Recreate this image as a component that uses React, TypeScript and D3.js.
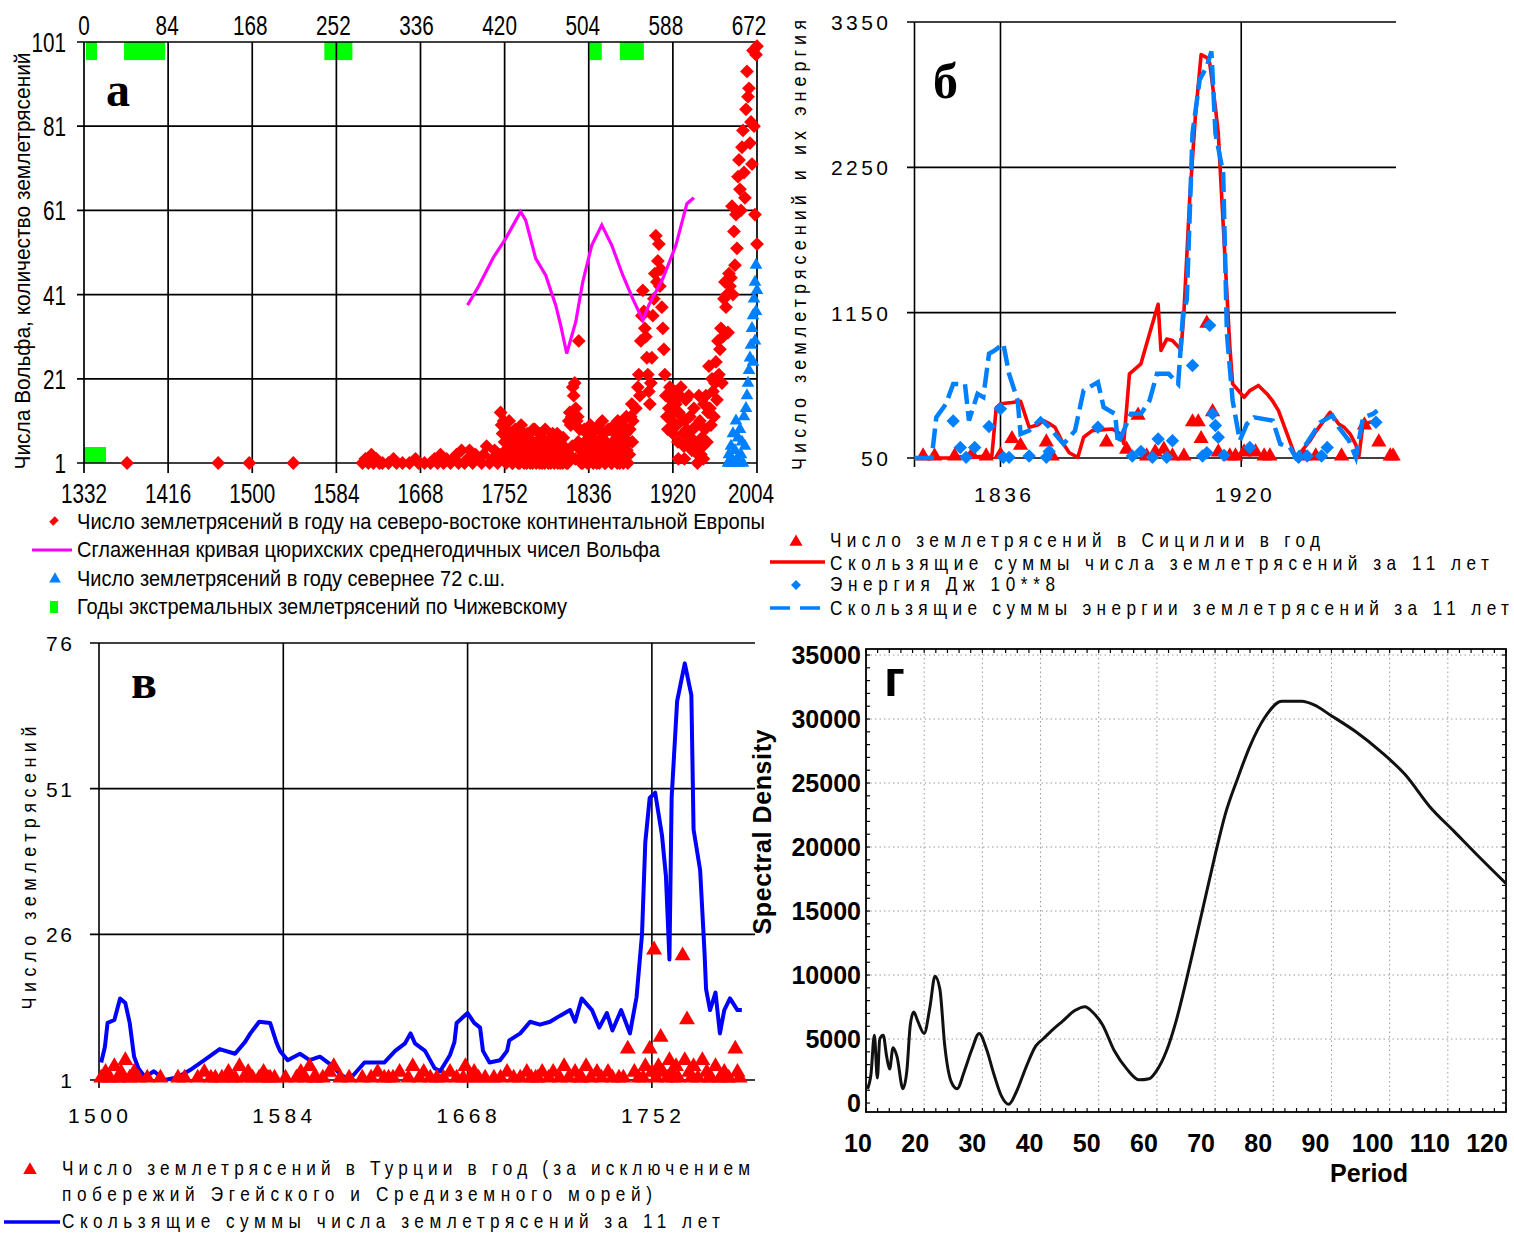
import React from 'react'
import * as d3 from 'd3'

const SANS = "'Liberation Sans', Arial, Helvetica, sans-serif"
const SERIF = "'Liberation Serif', 'Times New Roman', serif"

// ---------- panel а : NE Europe, Wolf numbers, Arctic ----------
const yearTicksA = [1332, 1416, 1500, 1584, 1668, 1752, 1836, 1920, 2004]
const topTicksA = [0, 84, 168, 252, 336, 420, 504, 588, 672]
const countTicksA = [1, 21, 41, 61, 81, 101]

const europeQuakes: [number, number][] = [
  [1375, 1], [1466, 1], [1497, 1], [1541, 1],
  [1610, 1], [1613, 2], [1616, 1], [1619, 3], [1621, 1], [1624, 2], [1627, 1], [1630, 1], [1636, 1], [1641, 2],
  [1644, 1], [1650, 1], [1657, 1], [1663, 2], [1666, 1], [1672, 1], [1678, 1], [1682, 2], [1685, 1], [1688, 3],
  [1691, 1], [1694, 2], [1698, 1], [1701, 2], [1704, 3], [1706, 1], [1709, 4], [1712, 1], [1715, 2], [1717, 4],
  [1720, 1], [1723, 3], [1726, 2], [1729, 1], [1731, 3], [1734, 5], [1737, 1], [1740, 2], [1742, 4], [1745, 1],
  [1747, 3], [1748, 13], [1749, 10], [1750, 8], [1751, 11], [1752, 6], [1753, 4], [1754, 9], [1755, 2], [1756, 7],
  [1757, 5], [1758, 3], [1759, 8], [1760, 1], [1761, 6], [1762, 4], [1763, 2], [1764, 7], [1765, 3], [1766, 5],
  [1767, 1], [1768, 4], [1769, 6], [1770, 2], [1771, 8], [1772, 3], [1773, 5], [1774, 1], [1775, 4], [1776, 7],
  [1777, 2], [1778, 6], [1779, 3], [1780, 1], [1781, 5], [1782, 9], [1783, 4], [1784, 2], [1785, 6], [1786, 3],
  [1787, 1], [1788, 5], [1789, 7], [1790, 2], [1791, 4], [1792, 1], [1793, 6], [1794, 3], [1795, 5], [1796, 2],
  [1797, 4], [1798, 1], [1799, 6], [1800, 8], [1801, 3], [1802, 5], [1803, 2], [1804, 4], [1805, 1], [1806, 3],
  [1807, 6], [1808, 2], [1809, 4], [1810, 1], [1811, 5], [1812, 3], [1813, 2], [1814, 4], [1815, 1], [1816, 11],
  [1817, 13], [1818, 10], [1819, 12], [1820, 19], [1821, 17], [1822, 20], [1823, 14], [1824, 11], [1825, 12],
  [1826, 30], [1827, 9], [1828, 4], [1829, 2],
  [1830, 1], [1831, 3], [1832, 6], [1833, 2], [1834, 8], [1835, 4], [1836, 1], [1837, 5], [1838, 3], [1839, 7],
  [1840, 2], [1841, 9], [1842, 4], [1843, 6], [1844, 1], [1845, 3], [1846, 10], [1847, 5], [1848, 2], [1849, 7],
  [1850, 4], [1851, 8], [1852, 1], [1853, 6], [1854, 3], [1855, 5], [1856, 2], [1857, 9], [1858, 4], [1859, 1],
  [1860, 6], [1861, 3], [1862, 8], [1863, 2], [1864, 5], [1865, 11], [1866, 4], [1867, 1], [1868, 7], [1869, 3],
  [1870, 10], [1871, 5], [1872, 2], [1873, 8], [1874, 4], [1875, 1], [1876, 6], [1877, 9], [1878, 12], [1879, 15],
  [1880, 11], [1883, 14], [1885, 19], [1886, 22], [1887, 17], [1888, 30], [1889, 36], [1890, 42], [1891, 37],
  [1892, 33], [1893, 31], [1894, 26], [1895, 22], [1896, 18], [1897, 15], [1898, 20], [1899, 26], [1900, 36],
  [1901, 40], [1902, 46], [1903, 55], [1904, 44], [1905, 49], [1906, 53], [1907, 43], [1908, 47], [1909, 38],
  [1910, 33], [1911, 28], [1912, 22], [1913, 17], [1914, 12], [1915, 9], [1916, 14], [1917, 19], [1918, 16],
  [1919, 11], [1920, 8], [1921, 13], [1922, 18], [1923, 15], [1924, 10], [1925, 6], [1926, 13], [1927, 17],
  [1928, 19], [1929, 12], [1930, 8], [1931, 5], [1932, 11], [1933, 16], [1934, 9], [1935, 6], [1936, 17],
  [1937, 12], [1938, 7], [1939, 4], [1940, 9], [1941, 14], [1942, 6], [1943, 5], [1944, 10], [1945, 3], [1946, 17],
  [1947, 11], [1948, 3], [1949, 7], [1950, 5], [1951, 15], [1952, 9], [1953, 17], [1954, 6], [1955, 13], [1956, 24],
  [1957, 14], [1958, 10], [1959, 21], [1960, 18], [1961, 12], [1962, 20], [1963, 25], [1964, 16], [1965, 30],
  [1966, 22], [1967, 28], [1968, 33], [1969, 20], [1970, 31], [1971, 40], [1972, 44], [1973, 38], [1974, 41],
  [1975, 32], [1976, 46], [1977, 43], [1978, 45], [1979, 62], [1980, 41], [1981, 56], [1982, 48], [1983, 60],
  [1984, 52], [1985, 69], [1986, 73], [1987, 66], [1988, 61], [1989, 76], [1990, 80], [1991, 70], [1992, 64],
  [1993, 85], [1994, 94], [1995, 88], [1996, 90], [1997, 77], [1998, 82], [1999, 72], [2000, 99], [2001, 81],
  [2002, 60], [2003, 98], [2004, 53], [2004, 100],
  // second reading of the dense band
  [1750.5, 2], [1753.5, 1], [1756.5, 11], [1759.5, 1], [1762.5, 9], [1765.5, 1], [1768.5, 10], [1771.5, 1],
  [1774.5, 8], [1777.5, 1], [1780.5, 9], [1783.5, 1], [1786.5, 8], [1789.5, 1], [1792.5, 9], [1795.5, 1],
  [1798.5, 7], [1801.5, 1], [1804.5, 8], [1807.5, 1], [1810.5, 7], [1813.5, 1], [1816.5, 3], [1819.5, 5],
  [1822.5, 2], [1825.5, 6], [1828.5, 1], [1831.5, 9], [1834.5, 1], [1837.5, 10], [1840.5, 1], [1843.5, 9],
  [1846.5, 1], [1849.5, 11], [1852.5, 1], [1855.5, 9], [1858.5, 1], [1861.5, 10], [1864.5, 1], [1867.5, 9],
  [1870.5, 1], [1873.5, 12], [1876.5, 3], [1879.5, 6], [1925.5, 2], [1931.5, 2], [1944.5, 1], [1950.5, 2],
]

const wolfSmoothed: [number, number][] = [
  [1715, 38.5], [1726, 43], [1741, 49.9], [1753, 54.3], [1768, 60.7], [1773, 58.7], [1783, 49.6], [1793, 45.6],
  [1803, 38.5], [1808, 33.7], [1814, 27], [1823, 34.5], [1830, 44], [1839, 52.7], [1849, 57.5], [1859, 52.7],
  [1870, 45.6], [1880, 40], [1890, 34.9], [1896, 38.5], [1910, 44.8], [1923, 52.7], [1934, 62.6], [1941, 64],
]

const arcticQuakes: [number, number][] = [
  [1975, 1], [1976, 3], [1977, 1], [1978, 5], [1979, 2], [1980, 8], [1981, 1], [1982, 4], [1983, 11], [1984, 2],
  [1985, 7], [1986, 1], [1987, 9], [1988, 3], [1989, 6], [1990, 1], [1991, 12], [1992, 5],
  [1993, 14], [1994, 17], [1995, 20], [1996, 23], [1997, 26], [1998, 29], [1999, 33], [2000, 36], [2001, 40],
  [2002, 44], [2003, 48], [2004, 42], [2002, 30], [2000, 25], [2003, 37],
]

const chizhevskyTop: [number, number][] = [[2, 13], [40, 81], [240, 268], [505, 517], [535, 559]]
const chizhevskyTopLevel: [number, number] = [96.7, 101]
const chizhevskyBottom: [number, number] = [1332, 1354]
const chizhevskyBottomLevel: [number, number] = [1, 4.8]

const legendA = [
  'Число землетрясений в году на северо-востоке континентальной Европы',
  'Сглаженная кривая цюрихских среднегодичных чисел Вольфа',
  'Число землетрясений в году севернее 72 с.ш.',
  'Годы экстремальных землетрясений по Чижевскому',
]

// ---------- panel б : Sicily ----------
const yearTicksB = [1836, 1920]
const valueTicksB = [50, 1150, 2250, 3350]

const sicilyCountSums: [number, number][] = [
  [1806, 50], [1820, 50], [1822, 60], [1826, 55], [1830, 62], [1833, 68], [1834.5, 430], [1836, 460], [1840, 470],
  [1843, 480], [1846, 283], [1849, 300], [1851, 333], [1853, 310], [1855, 283], [1858, 156], [1860, 90], [1863, 55],
  [1865, 207], [1868, 257], [1872, 265], [1875, 270], [1878, 232], [1879, 160], [1881, 687], [1885, 763], [1888, 990],
  [1891, 1213], [1892, 864], [1894, 950], [1896, 940], [1899, 870], [1900, 1150], [1902, 2002], [1904, 2635],
  [1906, 3103], [1908, 3080], [1909, 3040], [1911, 2700], [1912, 2508], [1913, 2100], [1914.5, 1497], [1916, 900],
  [1917, 611], [1919, 561], [1921, 510], [1923, 560], [1926, 599], [1929, 535], [1931, 480], [1933, 409],
  [1936, 232], [1939, 55], [1941, 100], [1944, 181], [1946, 250], [1948, 308], [1951, 396], [1954, 308],
  [1956, 280], [1958, 232], [1960, 150], [1961, 55], [1962.5, 308], [1965, 320], [1967.5, 333],
]

const sicilyEnergySums: [number, number][] = [
  [1806, 50], [1812, 50], [1813.6, 358], [1817, 460], [1819.5, 611], [1823.6, 611], [1825, 333], [1828, 535],
  [1830, 510], [1832, 839], [1834, 864], [1837, 915], [1839, 687], [1842, 485], [1843, 232], [1846, 257],
  [1850, 346], [1853, 283], [1858, 156], [1862, 257], [1865, 561], [1870, 624], [1872, 434], [1876, 384],
  [1877, 156], [1881.5, 384], [1885, 384], [1888, 485], [1890.6, 687], [1894.7, 687], [1898, 611], [1899.7, 1142],
  [1901, 1244], [1903, 2508], [1905.5, 2913], [1908, 3014], [1909.6, 3128], [1911, 2508], [1913.7, 2205],
  [1915, 991], [1917, 485], [1919.5, 181], [1922, 308], [1924.5, 358], [1931, 333], [1933.6, 156], [1937, 131],
  [1939, 55], [1942.7, 156], [1947.6, 320], [1951.8, 371], [1954, 283], [1957.6, 181], [1960, 55], [1962.5, 358],
  [1966, 384], [1967.5, 409],
]

const sicilyCounts: [number, number][] = [
  [1809, 50], [1813, 50], [1820, 50], [1826, 60], [1831, 50], [1836, 60], [1840, 181], [1843, 130], [1852, 156],
  [1854, 50], [1873, 156], [1880, 100], [1884, 358], [1887, 50], [1890, 80], [1893, 100], [1896, 50], [1900, 50],
  [1903, 308], [1905, 308], [1906, 181], [1908, 1054], [1910, 384], [1912, 80], [1916, 50], [1918, 50],
  [1921, 80], [1925, 80], [1928, 50], [1930, 50], [1942, 50], [1946, 50], [1955, 50], [1963, 284], [1968, 156],
  [1972, 50], [1973, 50],
]

const sicilyEnergy: [number, number][] = [
  [1819.5, 330], [1822, 130], [1824, 55], [1827, 130], [1832, 288], [1836, 422], [1837, 55], [1839, 55],
  [1846, 65], [1852, 55], [1853, 100], [1870, 283], [1882, 65], [1885, 100], [1889, 55], [1891, 194], [1894, 55],
  [1896, 180], [1903, 750], [1906.5, 65], [1908, 90], [1909, 1054], [1910, 384], [1911, 296], [1912, 207],
  [1914, 70], [1923, 130], [1940, 55], [1943, 65], [1948, 65], [1950, 130], [1967, 320],
]

const legendB = [
  'Число землетрясений в Сицилии в год',
  'Скользящие суммы числа землетрясений за 11 лет',
  'Энергия Дж 10**8',
  'Скользящие суммы энергии землетрясений за 11 лет',
]

// ---------- panel в : Turkey ----------
const yearTicksV = [1500, 1584, 1668, 1752]
const countTicksV = [1, 26, 51, 76]

const turkeySums: [number, number][] = [
  [1501, 4], [1502.7, 6.7], [1503.9, 10.8], [1507, 11.3], [1509.6, 15], [1512, 14.2], [1514, 10.8], [1516, 5],
  [1518, 3], [1521, 1.5], [1525, 2.5], [1530, 1], [1536, 1.5], [1541.5, 2.7], [1548, 4.4], [1555, 6.3],
  [1562, 5.5], [1566.5, 7.5], [1569, 9], [1573, 11], [1578, 10.8], [1581, 7.3], [1582.5, 6], [1586, 4.4],
  [1591.6, 5.5], [1596, 4.4], [1600.7, 5], [1605, 3.8], [1610, 2], [1614, 1], [1621, 4], [1630, 4], [1635, 6],
  [1639.5, 7.3], [1642, 9], [1644, 7.3], [1648.6, 6], [1653, 3], [1655.5, 2.5], [1660, 5.3], [1662, 7.5],
  [1663, 10.8], [1668, 12.5], [1671, 10.8], [1673.7, 10], [1675, 6], [1678, 4], [1682.8, 4.4], [1686, 6],
  [1687, 7.8], [1692, 9], [1696.5, 11], [1701, 10.5], [1705.6, 11], [1710, 12], [1714.7, 13], [1717, 11],
  [1720, 15], [1724.7, 13], [1728, 10], [1731.5, 12.5], [1734, 9.5], [1738, 13], [1742, 9], [1745, 15.2],
  [1747.5, 26], [1749, 41.8], [1751, 49.4], [1753.5, 50.3], [1756.6, 43], [1758.4, 36], [1760, 21.7],
  [1761, 49.4], [1763.5, 66], [1767, 72.5], [1770, 67], [1771, 44], [1774, 37], [1776, 22.8], [1776.7, 16.6],
  [1778.5, 13], [1781, 16], [1783, 9], [1785, 13], [1787.6, 15], [1791, 13], [1793, 13],
]

const turkeyCounts: [number, number][] = [
  [1501, 1], [1503, 2], [1505, 1], [1507, 3], [1509, 1], [1510, 2], [1512, 4], [1514, 1], [1516, 2], [1518, 1],
  [1522, 1], [1528, 1], [1536, 1], [1539, 1], [1545, 1], [1548, 2], [1551, 1], [1553, 1], [1556, 1], [1559, 2],
  [1562, 1], [1564, 3], [1566, 1], [1568, 2], [1570, 1], [1573, 1], [1575, 2], [1578, 1], [1580, 1], [1590, 1],
  [1592, 2], [1594, 1], [1596, 3], [1598, 1], [1602, 1], [1605, 2], [1607, 3], [1610, 1], [1614, 1], [1620, 1],
  [1624, 1], [1627, 2], [1630, 1], [1634, 1], [1637, 2], [1641, 1], [1643, 3], [1646, 1], [1648, 2], [1654, 1],
  [1657, 1], [1660, 2], [1663, 1], [1667, 3], [1669, 1], [1671, 2], [1673, 1], [1680, 1], [1683, 1], [1686, 2],
  [1689, 1], [1692, 1], [1695, 2], [1697, 1], [1700, 1], [1702, 2], [1705, 1], [1707, 2], [1710, 1], [1712, 3],
  [1714, 1], [1717, 2], [1719, 1], [1722, 3], [1724, 1], [1727, 2], [1729, 1], [1732, 2], [1734, 1], [1737, 1],
  [1741, 6], [1744, 2], [1746, 1], [1748, 1], [1749, 3], [1751, 6], [1753, 23], [1754, 1], [1755, 3], [1756, 8],
  [1757, 2], [1759, 1], [1760, 4], [1761, 2], [1763, 3], [1764, 1], [1766, 22], [1767, 4], [1768, 11], [1769, 2],
  [1771, 3], [1773, 1], [1775, 4], [1777, 2], [1779, 1], [1781, 3], [1783, 1], [1785, 2], [1787, 1], [1790, 6],
  [1791, 2], [1792, 1], [1504, 1], [1511, 1], [1560, 1], [1577, 1], [1585, 1], [1599, 1], [1632, 1], [1651, 1],
  [1666, 1], [1676, 1], [1699, 1], [1720, 1], [1739, 1], [1752, 2], [1762, 1], [1770, 1], [1778, 1], [1786, 1],
]

const legendV = [
  'Число землетрясений в Турции в год (за исключением',
  'побережий Эгейского и Средиземного морей)',
  'Скользящие суммы числа землетрясений за 11 лет',
]

// ---------- panel г : spectral density ----------
const periodTicks = [10, 20, 30, 40, 50, 60, 70, 80, 90, 100, 110, 120]
const densityTicks = [0, 5000, 10000, 15000, 20000, 25000, 30000, 35000]

const spectrum: [number, number][] = [
  [10.25, 1100], [10.85, 2230], [11.44, 5300], [11.95, 1950], [12.37, 5020], [12.96, 5300], [13.55, 3630],
  [14.06, 2650], [14.65, 4320], [15.33, 3630], [16.35, 1120], [17.02, 2510], [17.62, 6140], [18.21, 7110],
  [18.88, 6420], [19.99, 5440], [21.0, 7530], [21.85, 9900], [22.69, 8920], [23.54, 4460], [24.64, 1670],
  [25.65, 1120], [26.92, 2510], [28.19, 4180], [29.46, 5440], [30.73, 4180], [32.0, 2230], [33.27, 560],
  [34.54, -100], [35.81, 840], [37.5, 2790], [39.19, 4460], [40.46, 5020], [41.73, 5580], [43.85, 6420],
  [45.96, 7250], [47.66, 7530], [48.93, 7110], [50.62, 6140], [52.73, 4040], [54.85, 2650], [56.96, 1810],
  [58.66, 1900], [59.93, 2510], [61.62, 4040], [63.31, 6420], [65.0, 9480], [66.7, 12830], [68.39, 16180],
  [70.08, 19520], [71.77, 22590], [73.89, 25380], [76.0, 27890], [78.54, 30120], [81.5, 31380], [84.89, 31380],
  [87.0, 31100], [89.97, 30260], [94.2, 29000], [98.43, 27470], [102.66, 25660], [106.9, 23150],
  [111.12, 21200], [115.35, 19240], [120, 17150],
]

const diamond = (area: number) => d3.symbol(d3.symbolSquare, area)() as string
const triangle = (area: number) => d3.symbol(d3.symbolTriangle, area)() as string

function Txt(p: any) {
  const { x, y, size = 21, w, anchor = 'start', rotate = 0, sx, adjust = 'spacing', weight = 'normal', family = SANS, fill = '#000', children } = p
  const tf = `translate(${x},${y})` + (rotate ? ` rotate(${rotate})` : '') + (sx ? ` scale(${sx},1)` : '')
  return (
    <text transform={tf} fontSize={size} fontFamily={family} fontWeight={weight} textAnchor={anchor} fill={fill}
      textLength={w ? w / (sx || 1) : undefined} lengthAdjust={w ? adjust : undefined}>{children}</text>
  )
}

export default function App() {
  // panel а scales
  const xA = d3.scaleLinear().domain([1332, 2004]).range([84, 757])
  const xTopA = d3.scaleLinear().domain([0, 672]).range([84, 757])
  const xTopLabA = d3.scaleLinear().domain([0, 672]).range([84, 749])
  const yA = d3.scaleLinear().domain([1, 101]).range([463, 42])
  const lineA = d3.line<[number, number]>().x(d => xA(d[0])).y(d => yA(d[1]))

  // panel б scales
  const xB = d3.scaleLinear().domain([1806, 1974]).range([914.5, 1396])
  const yB = d3.scaleLinear().domain([50, 3350]).range([458, 22])
  const lineB = d3.line<[number, number]>().x(d => xB(d[0])).y(d => yB(d[1]))

  // panel в scales
  const xV = d3.scaleLinear().domain([1500, 1799]).range([99, 755])
  const yV = d3.scaleLinear().domain([1, 76]).range([1080, 643])
  const lineV = d3.line<[number, number]>().x(d => xV(d[0])).y(d => yV(d[1]))

  // panel г scales
  const xG = d3.scaleLinear().domain([10, 120]).range([866, 1506])
  const xGLab = d3.scaleLinear().domain([10, 120]).range([858, 1487])
  const yG = d3.scaleLinear().domain([-700, 35470]).range([1112, 649])
  const lineG = d3.line<[number, number]>().x(d => xG(d[0])).y(d => yG(d[1])).curve(d3.curveMonotoneX)

  const dA = diamond(95)
  const tA = triangle(70)
  const tB = triangle(100)
  const dB = diamond(90)
  const tV = triangle(110)

  const gMinorX = d3.range(10, 121, 2)
  const gMinorY = d3.range(0, 35001, 1000)
  const SX = 0.86

  return (
    <svg width={1514} height={1235} style={{ position: 'absolute', left: 0, top: 0 }} fontFamily={SANS}>
      <rect x={0} y={0} width={1514} height={1235} fill="#fff" />

      {/* ================= а ================= */}
      <g>
        {chizhevskyTop.map((s, i) => (
          <rect key={'gt' + i} x={xTopA(s[0])} y={yA(chizhevskyTopLevel[1])} width={xTopA(s[1]) - xTopA(s[0])}
            height={yA(chizhevskyTopLevel[0]) - yA(chizhevskyTopLevel[1])} fill="#00ff00" />
        ))}
        <rect x={xA(chizhevskyBottom[0])} y={yA(chizhevskyBottomLevel[1])} width={xA(chizhevskyBottom[1]) - xA(chizhevskyBottom[0])}
          height={yA(chizhevskyBottomLevel[0]) - yA(chizhevskyBottomLevel[1])} fill="#00ff00" />
        {countTicksA.map(v => (
          <line key={'ha' + v} x1={77} x2={xA(2004)} y1={yA(v)} y2={yA(v)} stroke="#000" strokeWidth={1.7} />
        ))}
        {yearTicksA.map(v => (
          <line key={'va' + v} x1={xA(v)} x2={xA(v)} y1={yA(101)} y2={yA(1) + 10} stroke="#000" strokeWidth={1.7} />
        ))}
        {europeQuakes.map((d, i) => (
          <path key={'eq' + i} d={dA} transform={`translate(${xA(d[0])},${yA(d[1])}) rotate(45)`} fill="#ff0000" />
        ))}
        <path d={lineA(wolfSmoothed) as string} fill="none" stroke="#ff00ff" strokeWidth={3.2} />
        {arcticQuakes.map((d, i) => (
          <path key={'aq' + i} d={tA} transform={`translate(${xA(d[0])},${yA(d[1])})`} fill="#0080ff" />
        ))}
        {countTicksA.map(v => (
          <Txt key={'ya' + v} x={66} y={yA(v) + 10} size={28} sx={0.74} anchor="end">{v}</Txt>
        ))}
        {yearTicksA.map(v => (
          <Txt key={'xa' + v} x={v === 2004 ? xA(v) - 6 : xA(v)} y={503} size={28} sx={0.74} anchor="middle">{v}</Txt>
        ))}
        {topTicksA.map(v => (
          <Txt key={'ta' + v} x={xTopLabA(v)} y={35} size={28} sx={0.74} anchor="middle">{v}</Txt>
        ))}
        <Txt x={30} y={261} size={22} rotate={-90} anchor="middle" w={417} adjust="spacingAndGlyphs">
          Числа Вольфа, количество  землетрясений
        </Txt>
        <Txt x={106} y={106} size={48} weight="bold" family={SERIF}>а</Txt>

        {/* legend а */}
        <path d={diamond(50)} transform="translate(54,521) rotate(45) scale(0.8,1.1)" fill="#ff0000" />
        <line x1={32} x2={72} y1={550} y2={550} stroke="#ff00ff" strokeWidth={3} />
        <path d={triangle(60)} transform="translate(55,579)" fill="#0080ff" />
        <rect x={50} y={601} width={8} height={12} fill="#00ff00" />
        {legendA.map((t, i) => (
          <Txt key={'la' + i} x={77} y={529 + i * 28.4} size={22} w={[688, 583, 428, 490][i]} adjust="spacingAndGlyphs">{t}</Txt>
        ))}
      </g>

      {/* ================= б ================= */}
      <g>
        {valueTicksB.map(v => (
          <line key={'hb' + v} x1={907} x2={1396} y1={yB(v)} y2={yB(v)} stroke="#000" strokeWidth={1.6} />
        ))}
        <line x1={xB(1806)} x2={xB(1806)} y1={yB(3350)} y2={yB(50) + 9} stroke="#000" strokeWidth={1.6} />
        {yearTicksB.map(v => (
          <line key={'vb' + v} x1={xB(v)} x2={xB(v)} y1={yB(3350)} y2={yB(50) + 9} stroke="#000" strokeWidth={1.6} />
        ))}
        {sicilyCounts.map((d, i) => (
          <path key={'sc' + i} d={tB} transform={`translate(${xB(d[0])},${yB(d[1]) - 2})`} fill="#ff0000" />
        ))}
        <path d={lineB(sicilyCountSums) as string} fill="none" stroke="#ff0000" strokeWidth={3.6} strokeLinejoin="round" />
        <path d={lineB(sicilyEnergySums) as string} fill="none" stroke="#0080ff" strokeWidth={4.5} strokeDasharray="20 7" />
        {sicilyEnergy.map((d, i) => (
          <path key={'se' + i} d={dB} transform={`translate(${xB(d[0])},${yB(d[1])}) rotate(45)`} fill="#0080ff" />
        ))}
        {valueTicksB.map(v => (
          <Txt key={'yb' + v} x={888} y={yB(v) + 8} size={21} anchor="end" w={String(v).length * 15 - 3}>{v}</Txt>
        ))}
        {yearTicksB.map(v => (
          <Txt key={'xb' + v} x={xB(v) + 2} y={502} size={21} anchor="middle" w={57}>{v}</Txt>
        ))}
        <Txt x={806} y={245} size={21} sx={SX} rotate={-90} anchor="middle" w={450}>Число землетрясений и их энергия</Txt>
        <Txt x={933} y={98} size={50} weight="bold" family={SERIF}>б</Txt>

        {/* legend б */}
        <path d={triangle(75)} transform="translate(796,542)" fill="#ff0000" />
        <line x1={770} x2={825} y1={562} y2={562} stroke="#ff0000" strokeWidth={3.5} />
        <path d={diamond(50)} transform="translate(796,585) rotate(45)" fill="#0080ff" />
        <line x1={770} x2={825} y1={608} y2={608} stroke="#0080ff" strokeWidth={3.5} strokeDasharray="20 10" />
        {legendB.map((t, i) => (
          <Txt key={'lb' + i} x={830} y={[547, 570, 591, 615][i]} size={20} sx={SX} w={[490, 659, 225, 679][i]}>{t}</Txt>
        ))}
      </g>

      {/* ================= в ================= */}
      <g>
        {countTicksV.map(v => (
          <line key={'hv' + v} x1={90} x2={755} y1={yV(v)} y2={yV(v)} stroke="#000" strokeWidth={1.6} />
        ))}
        {yearTicksV.map(v => (
          <line key={'vv' + v} x1={xV(v)} x2={xV(v)} y1={yV(76)} y2={yV(1) + 8} stroke="#000" strokeWidth={1.6} />
        ))}
        <path d={lineV(turkeySums) as string} fill="none" stroke="#0000ff" strokeWidth={4} strokeLinejoin="round" />
        {turkeyCounts.map((d, i) => (
          <path key={'tc' + i} d={tV} transform={`translate(${xV(d[0])},${yV(d[1]) - 2})`} fill="#ff0000" />
        ))}
        {countTicksV.map(v => (
          <Txt key={'yv' + v} x={72} y={yV(v) + 8} size={21} anchor="end" w={String(v).length * 13}>{v}</Txt>
        ))}
        {yearTicksV.map(v => (
          <Txt key={'xv' + v} x={xV(v) - 1} y={1123} size={21} anchor="middle" w={60}>{v}</Txt>
        ))}
        <Txt x={36} y={868} size={21} sx={SX} rotate={-90} anchor="middle" w={283}>Число землетрясений</Txt>
        <Txt x={131} y={698} size={48} weight="bold" family={SERIF}>в</Txt>

        {/* legend в */}
        <path d={triangle(80)} transform="translate(30,1170)" fill="#ff0000" />
        <line x1={4} x2={60} y1={1222} y2={1222} stroke="#0000ff" strokeWidth={3.5} />
        {legendV.map((t, i) => (
          <Txt key={'lv' + i} x={62} y={[1175, 1201, 1228][i]} size={20} sx={SX} w={[688, 590, 658][i]}>{t}</Txt>
        ))}
      </g>

      {/* ================= г ================= */}
      <g>
        {periodTicks.filter(v => v > 10 && v < 120).map(v => (
          <line key={'gv' + v} x1={xG(v)} x2={xG(v)} y1={yG(35470)} y2={yG(-700)} stroke="#999" strokeWidth={1} strokeDasharray="1.5 3" />
        ))}
        {densityTicks.filter(v => v > 0).map(v => (
          <line key={'gh' + v} x1={xG(10)} x2={xG(120)} y1={yG(v)} y2={yG(v)} stroke="#999" strokeWidth={1} strokeDasharray="1.5 3" />
        ))}
        {gMinorX.map(v => (
          <g key={'mx' + v}>
            <line x1={xG(v)} x2={xG(v)} y1={yG(-700)} y2={yG(-700) - 4} stroke="#000" strokeWidth={1.2} />
            <line x1={xG(v)} x2={xG(v)} y1={yG(35470)} y2={yG(35470) + 4} stroke="#000" strokeWidth={1.2} />
          </g>
        ))}
        {gMinorY.map(v => (
          <g key={'my' + v}>
            <line x1={xG(10)} x2={xG(10) + 4} y1={yG(v)} y2={yG(v)} stroke="#000" strokeWidth={1.2} />
            <line x1={xG(120)} x2={xG(120) - 4} y1={yG(v)} y2={yG(v)} stroke="#000" strokeWidth={1.2} />
          </g>
        ))}
        <rect x={xG(10)} y={yG(35470)} width={xG(120) - xG(10)} height={yG(-700) - yG(35470)} fill="none" stroke="#000" strokeWidth={1.8} />
        <path d={lineG(spectrum) as string} fill="none" stroke="#111" strokeWidth={3} strokeLinejoin="round" />
        {densityTicks.map(v => (
          <Txt key={'yg' + v} x={861} y={yG(v) + 9} size={25} weight="bold" anchor="end">{v}</Txt>
        ))}
        {periodTicks.map(v => (
          <Txt key={'xg' + v} x={xGLab(v)} y={1152} size={25} weight="bold" anchor="middle">{v}</Txt>
        ))}
        <Txt x={1369} y={1182} size={25} weight="bold" anchor="middle">Period</Txt>
        <Txt x={771} y={832} size={25} weight="bold" anchor="middle" rotate={-90} w={205}>Spectral Density</Txt>
        <Txt x={884} y={696} size={50} weight="bold">г</Txt>
      </g>
    </svg>
  )
}
